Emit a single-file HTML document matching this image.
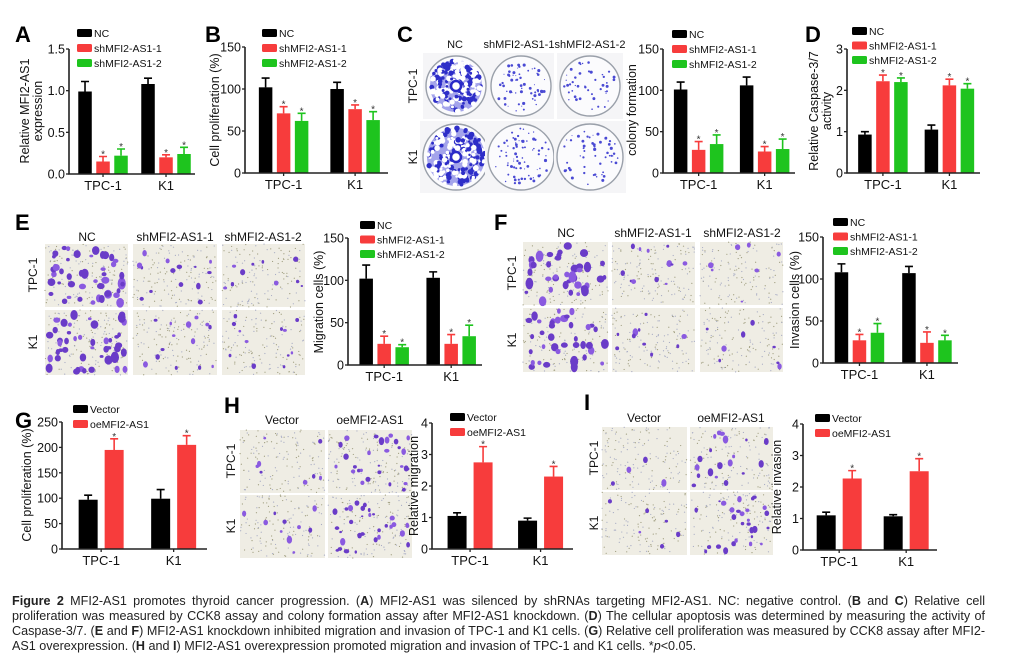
<!DOCTYPE html>
<html><head><meta charset="utf-8"><style>
html,body{margin:0;padding:0;background:#fff;}
body{width:1030px;height:670px;overflow:hidden;position:relative;font-family:"Liberation Sans",Arial,sans-serif;}
svg{position:absolute;left:0;top:0;font-family:"Liberation Sans",Arial,sans-serif;}
.cap{position:absolute;left:12px;width:973px;font-family:"Liberation Sans",sans-serif;font-size:12.6px;line-height:15px;text-align:justify;text-align-last:justify;white-space:nowrap;color:#222;}
.cap.last{text-align-last:left;}
</style></head><body>
<svg id="fig" width="1030" height="670" viewBox="0 0 1030 670" font-family="Liberation Sans, Arial, sans-serif"></svg>
<div class="cap" style="top:594px"><b>Figure 2</b> MFI2-AS1 promotes thyroid cancer progression. (<b>A</b>) MFI2-AS1 was silenced by shRNAs targeting MFI2-AS1. NC: negative control. (<b>B</b> and <b>C</b>) Relative cell</div>
<div class="cap" style="top:609px">proliferation was measured by CCK8 assay and colony formation assay after MFI2-AS1 knockdown. (<b>D</b>) The cellular apoptosis was determined by measuring the activity of</div>
<div class="cap" style="top:624px">Caspase-3/7. (<b>E</b> and <b>F</b>) MFI2-AS1 knockdown inhibited migration and invasion of TPC-1 and K1 cells. (<b>G</b>) Relative cell proliferation was measured by CCK8 assay after MFI2-</div>
<div class="cap last" style="top:639px">AS1 overexpression. (<b>H</b> and <b>I</b>) MFI2-AS1 overexpression promoted migration and invasion of TPC-1 and K1 cells. *<i>p</i>&lt;0.05.</div>
<script>
// ---- data ----
const categories = ["TPC-1", "K1"];
const shSeries = ["NC", "shMFI2-AS1-1", "shMFI2-AS1-2"];
const oeSeries = ["Vector", "oeMFI2-AS1"];
const A_values = [[0.99, 0.15, 0.22], [1.08, 0.20, 0.24]];
const A_errors = [[0.12, 0.06, 0.08], [0.07, 0.03, 0.08]];
const A_ticks = ["0.0", "0.5", "1.0", "1.5"];
const B_values = [[102, 71, 62], [100, 76, 63]];
const B_errors = [[11, 8, 9], [8, 5, 10]];
const B_ticks = ["0", "50", "100", "150"];
const C_values = [[101, 28, 35], [106, 26, 29]];
const C_errors = [[9, 10, 11], [10, 6, 12]];
const C_ticks = ["0", "50", "100", "150"];
const D_values = [[0.93, 2.22, 2.20], [1.05, 2.12, 2.04]];
const D_errors = [[0.07, 0.15, 0.10], [0.11, 0.15, 0.12]];
const D_ticks = ["0", "1", "2", "3"];
const E_values = [[102, 25, 21], [103, 25, 34]];
const E_errors = [[16, 9, 3], [7, 11, 13]];
const E_ticks = ["0", "50", "100", "150"];
const F_values = [[108, 27, 36], [107, 24, 27]];
const F_errors = [[10, 7, 11], [8, 13, 6]];
const F_ticks = ["0", "50", "100", "150"];
const G_values = [[97, 195], [99, 205]];
const G_errors = [[9, 22], [18, 18]];
const G_ticks = ["0", "50", "100", "150", "200", "250"];
const H_values = [[1.05, 2.75], [0.90, 2.30]];
const H_errors = [[0.10, 0.50], [0.08, 0.32]];
const H_ticks = ["0", "1", "2", "3", "4"];
const I_values = [[1.10, 2.27], [1.07, 2.50]];
const I_errors = [[0.10, 0.25], [0.05, 0.40]];
const I_ticks = ["0", "1", "2", "3", "4"];

const NS = "http://www.w3.org/2000/svg";
const svg = document.getElementById("fig");
const COLORS = ["#000000", "#f73c3c", "#1ec41e"];
function el(tag, attrs, parent) {
  const e = document.createElementNS(NS, tag);
  for (const k in attrs) e.setAttribute(k, attrs[k]);
  (parent || svg).appendChild(e);
  return e;
}
function txt(s, attrs, parent) { const t = el("text", attrs, parent); t.textContent = s; return t; }

function chart(id, L, series, values, errors, ticks) {
  const g = el("g", {});
  
  
  const ymax = parseFloat(ticks[ticks.length - 1]);
  const y = v => L.y0 - (v / ymax) * (L.y0 - L.yTop);
  const x = i => L.x0 + (L.x1 - L.x0) * (0.27 + 0.5 * i);
  const n = series.length;
  const bw = n === 3 ? 13.5 : 19, step = n === 3 ? 18 : 26;
  categories.forEach((c, ci) => {
    series.forEach((s, si) => {
      const cx = x(ci) + (si - (n - 1) / 2) * step;
      const v = values[ci][si], e = errors[ci][si];
      const bar = el("rect", { x: cx - bw / 2, y: y(v), width: bw, height: L.y0 - y(v), fill: COLORS[si] }, g);
      
      
      const eb = el("path", { d: `M${cx} ${y(v)}V${y(v + e)}M${cx - 4} ${y(v + e)}H${cx + 4}`, stroke: COLORS[si], "stroke-width": 1.6, fill: "none" }, g);
      
      
      if (si > 0) {
        const st = txt("*", { x: cx, y: y(v + e) + 1, "font-size": 10, "text-anchor": "middle", fill: "#333" }, g);
        
        
      }
    });
    el("line", { x1: x(ci), x2: x(ci), y1: L.y0, y2: L.y0 + 3, stroke: "#222", "stroke-width": 1.3 }, g);
    const xl = txt(c, { x: x(ci), y: L.y0 + 16, "font-size": 13, "text-anchor": "middle", fill: "#111" }, g);
    
    
  });
  el("path", { d: `M${L.x0} ${L.yTop}V${L.y0}H${L.x1}`, stroke: "#222", "stroke-width": 1.6, fill: "none" }, g);
  ticks.forEach(t => {
    const yy = y(parseFloat(t));
    el("line", { x1: L.x0 - 3, x2: L.x0, y1: yy, y2: yy, stroke: "#222", "stroke-width": 1.3 }, g);
    const tl = txt(t, { x: L.x0 - 4, y: yy + 4.5, "font-size": 12.5, "text-anchor": "end", fill: "#111" }, g);
    
    
  });
  L.ylab.forEach((lab, i) => {
    const yt = txt(lab, { x: 0, y: 0, "font-size": 12.5, "text-anchor": "middle", "dominant-baseline": "central", fill: "#111", transform: `translate(${L.ylx + i * 13},${L.yly}) rotate(-90)` }, g);
    
    
  });
  series.forEach((s, si) => {
    const ly = L.legY + si * L.legDy;
    const sw = el("rect", { x: L.legX, y: ly - 4, width: 15, height: 8, rx: 1.5, fill: COLORS[si] }, g);
    
    
    const lt = txt(s, { x: L.legX + 17, y: ly + 4, "font-size": 10.5, fill: "#111" }, g);
    
    
  });
}

function letter(s, xx, yy) {
  const t = txt(s, { x: xx, y: yy, "font-size": 22, "font-weight": "bold", fill: "#000" });
  
  
}

// deterministic decorative texture generator
let seed = 7;
function rnd() { seed = (seed * 16807) % 2147483647; return seed / 2147483647; }
function micro(x, y, w, h, dens, big) {
  const g = el("g", {});
  
  
  el("rect", { x, y, width: w, height: h, fill: "#efede4" }, g);
  for (let i = 0; i < 140; i++) el("circle", { cx: x + rnd() * w, cy: y + rnd() * h, r: 0.6, fill: rnd() < .5 ? "#a8acc4" : "#a09e80" }, g);
  for (let i = 0; i < dens; i++) {
    const r = big ? 1.8 + rnd() * 2.4 : 1.2 + rnd() * 1.6;
    el("ellipse", { cx: x + 3 + rnd() * (w - 6), cy: y + 3 + rnd() * (h - 6), rx: r, ry: r * (0.7 + rnd() * .8), fill: rnd() < .6 ? "#6a3cc8" : "#8a5ae0" }, g);
  }
}
function plate(cx, cy, r, dens, heavy) {
  const g = el("g", {});
  
  
  el("rect", { x: cx - r - 3, y: cy - r - 3, width: 2 * r + 6, height: 2 * r + 6, fill: "#f5f5f7" }, g);
  el("circle", { cx, cy, r, fill: "#fbfbfd", stroke: "#9aa0aa", "stroke-width": 1.4 }, g);
  if (heavy) el("circle", { cx, cy, r: r - 4, fill: "#6a6ae0", opacity: .6 }, g);
  for (let i = 0; i < dens; i++) {
    const a = rnd() * 6.283, d = Math.sqrt(rnd()) * (r - 4);
    el("circle", { cx: cx + Math.cos(a) * d, cy: cy + Math.sin(a) * d, r: heavy ? 1.2 + rnd() * 1.8 : 0.5 + rnd() * 1.1, fill: heavy ? (rnd() < .5 ? "#2e2ec8" : "#ffffff") : "#4a4ad4" }, g);
  }
  if (heavy) el("circle", { cx, cy, r: 5, fill: "#fff", stroke: "#2a2ac8", "stroke-width": 2.5 }, g);
}
function lab(s, xx, yy, rot, name, fs) {
  const t = txt(s, { x: 0, y: 0, "font-size": fs || 12, "text-anchor": "middle", "dominant-baseline": "central", fill: "#111", transform: `translate(${xx},${yy})${rot ? " rotate(-90)" : ""}` });
  
  
}

// ---- panel letters ----
letter("A", 15, 42); letter("B", 205, 42); letter("C", 397, 42); letter("D", 805, 42);
letter("E", 15, 230); letter("F", 494, 230);
letter("G", 15, 428); letter("H", 224, 413); letter("I", 584, 410);

// ---- C plates ----
lab("NC", 455, 45, 0, "column-label", 11); lab("shMFI2-AS1-1", 519, 45, 0, "column-label", 11); lab("shMFI2-AS1-2", 590, 45, 0, "column-label", 11);
lab("TPC-1", 413, 86, 1, "row-label"); lab("K1", 413, 157, 1, "row-label");
plate(456, 86, 30, 220, true); plate(521, 86, 30, 60, false); plate(590, 86, 30, 45, false);
plate(456, 157, 33, 220, true); plate(521, 157, 33, 75, false); plate(590, 157, 33, 55, false);

// ---- E images ----
lab("NC", 87, 237, 0, "column-label"); lab("shMFI2-AS1-1", 175, 237, 0, "column-label"); lab("shMFI2-AS1-2", 263, 237, 0, "column-label");
lab("TPC-1", 33, 275, 1, "row-label"); lab("K1", 33, 342, 1, "row-label");
micro(45, 244, 83, 63, 45, true); micro(133, 244, 84, 63, 14, false); micro(222, 244, 83, 63, 10, false);
micro(45, 310, 83, 65, 45, true); micro(133, 310, 84, 65, 14, false); micro(222, 310, 83, 65, 12, false);

// ---- F images ----
lab("NC", 566, 233, 0, "column-label"); lab("shMFI2-AS1-1", 653, 233, 0, "column-label"); lab("shMFI2-AS1-2", 742, 233, 0, "column-label");
lab("TPC-1", 512, 273, 1, "row-label"); lab("K1", 512, 340, 1, "row-label");
micro(523, 242, 85, 63, 38, true); micro(612, 242, 83, 63, 12, false); micro(700, 242, 83, 63, 8, false);
micro(523, 308, 85, 64, 38, true); micro(612, 308, 83, 64, 10, false); micro(700, 308, 83, 64, 8, false);

// ---- H images ----
lab("Vector", 282, 420, 0, "column-label"); lab("oeMFI2-AS1", 370, 420, 0, "column-label");
lab("TPC-1", 231, 461, 1, "row-label"); lab("K1", 231, 526, 1, "row-label");
micro(240, 430, 85, 63, 8, false); micro(328, 430, 84, 63, 28, false);
micro(240, 495, 85, 63, 10, false); micro(328, 495, 84, 63, 32, false);

// ---- I images ----
lab("Vector", 644, 418, 0, "column-label"); lab("oeMFI2-AS1", 731, 418, 0, "column-label");
lab("TPC-1", 594, 458, 1, "row-label"); lab("K1", 594, 523, 1, "row-label");
micro(602, 427, 85, 63, 4, false); micro(690, 427, 83, 63, 20, false);
micro(602, 492, 85, 63, 6, false); micro(690, 492, 83, 63, 28, false);

// ---- charts ----
chart("A", { x0: 69, x1: 195, yTop: 49, y0: 174, ylab: ["Relative MFI2-AS1", "expression"], ylx: 25, yly: 111, legX: 77, legY: 33, legDy: 15 }, shSeries, A_values, A_errors, A_ticks);
chart("B", { x0: 245, x1: 388, yTop: 47, y0: 173, ylab: ["Cell proliferation (%)"], ylx: 215, yly: 110, legX: 262, legY: 33, legDy: 15 }, shSeries, B_values, B_errors, B_ticks);
chart("C", { x0: 663, x1: 795, yTop: 49, y0: 173, ylab: ["colony formation"], ylx: 632, yly: 110, legX: 672, legY: 34, legDy: 15 }, shSeries, C_values, C_errors, C_ticks);
chart("D", { x0: 847, x1: 980, yTop: 49, y0: 173, ylab: ["Relative Caspase-3/7", "activity"], ylx: 814, yly: 111, legX: 852, legY: 31, legDy: 14.5 }, shSeries, D_values, D_errors, D_ticks);
chart("E", { x0: 348, x1: 482, yTop: 238, y0: 365, ylab: ["Migration cells (%)"], ylx: 319, yly: 302, legX: 360, legY: 225, legDy: 14.5 }, shSeries, E_values, E_errors, E_ticks);
chart("F", { x0: 823, x1: 958, yTop: 237, y0: 363, ylab: ["Invasion cells (%)"], ylx: 795, yly: 300, legX: 833, legY: 222, legDy: 14.5 }, shSeries, F_values, F_errors, F_ticks);
chart("G", { x0: 62, x1: 207, yTop: 422, y0: 549, ylab: ["Cell proliferation (%)"], ylx: 27, yly: 485, legX: 73, legY: 409, legDy: 15 }, oeSeries, G_values, G_errors, G_ticks);
chart("H", { x0: 432, x1: 573, yTop: 423, y0: 549, ylab: ["Relative migration"], ylx: 414, yly: 486, legX: 450, legY: 417, legDy: 15 }, oeSeries, H_values, H_errors, H_ticks);
chart("I", { x0: 803, x1: 937, yTop: 424, y0: 550, ylab: ["Relative invasion"], ylx: 777, yly: 487, legX: 815, legY: 418, legDy: 15 }, oeSeries, I_values, I_errors, I_ticks);
</script>
</body></html>
